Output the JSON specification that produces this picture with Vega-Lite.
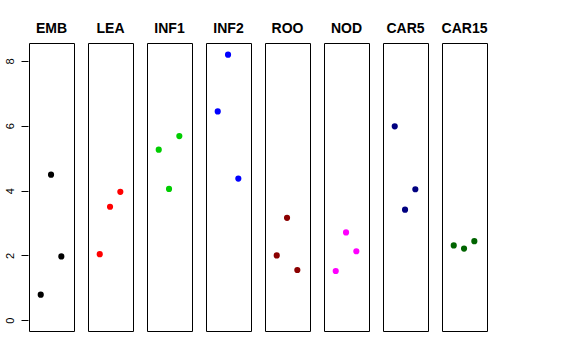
{
  "$schema": "https://vega.github.io/schema/vega-lite/v6.json",
  "background": "white",
  "padding": {"left": 4, "top": 22, "right": 5, "bottom": 5},
  "data": {"values": [
    {"panel": "EMB", "idx": 1, "value": 0.79},
    {"panel": "EMB", "idx": 2, "value": 4.49},
    {"panel": "EMB", "idx": 3, "value": 1.97},
    {"panel": "LEA", "idx": 1, "value": 2.04},
    {"panel": "LEA", "idx": 2, "value": 3.50},
    {"panel": "LEA", "idx": 3, "value": 3.96},
    {"panel": "INF1", "idx": 1, "value": 5.26},
    {"panel": "INF1", "idx": 2, "value": 4.05},
    {"panel": "INF1", "idx": 3, "value": 5.68},
    {"panel": "INF2", "idx": 1, "value": 6.44},
    {"panel": "INF2", "idx": 2, "value": 8.19},
    {"panel": "INF2", "idx": 3, "value": 4.37},
    {"panel": "ROO", "idx": 1, "value": 2.00},
    {"panel": "ROO", "idx": 2, "value": 3.16},
    {"panel": "ROO", "idx": 3, "value": 1.55},
    {"panel": "NOD", "idx": 1, "value": 1.52},
    {"panel": "NOD", "idx": 2, "value": 2.71},
    {"panel": "NOD", "idx": 3, "value": 2.13},
    {"panel": "CAR5", "idx": 1, "value": 5.98},
    {"panel": "CAR5", "idx": 2, "value": 3.41},
    {"panel": "CAR5", "idx": 3, "value": 4.04},
    {"panel": "CAR15", "idx": 1, "value": 2.31},
    {"panel": "CAR15", "idx": 2, "value": 2.21},
    {"panel": "CAR15", "idx": 3, "value": 2.44}
  ]},
  "facet": {
    "column": {
      "field": "panel",
      "type": "nominal",
      "sort": ["EMB", "LEA", "INF1", "INF2", "ROO", "NOD", "CAR5", "CAR15"],
      "header": {
        "title": null,
        "labelFont": "Liberation Sans",
        "labelFontWeight": "bold",
        "labelFontSize": 14,
        "labelColor": "black",
        "labelPadding": 6
      }
    }
  },
  "spacing": 12,
  "spec": {
    "width": 45,
    "height": 288,
    "mark": {"type": "circle", "size": 38, "opacity": 1},
    "encoding": {
      "x": {"field": "idx", "type": "quantitative", "scale": {"domain": [-0.14, 4.23], "nice": false, "zero": false}, "axis": null},
      "y": {
        "field": "value",
        "type": "quantitative",
        "scale": {"domain": [-0.33, 8.55], "nice": false, "zero": false},
        "axis": {
          "values": [0, 2, 4, 6, 8],
          "domain": false,
          "grid": false,
          "title": null,
          "tickSize": 7,
          "tickColor": "black",
          "labelAngle": 270,
          "labelAlign": "center",
          "labelBaseline": "bottom",
          "labelFont": "Liberation Sans",
          "labelFontSize": 11,
          "labelColor": "black",
          "labelPadding": 6
        }
      },
      "color": {
        "field": "panel",
        "type": "nominal",
        "scale": {
          "domain": ["EMB", "LEA", "INF1", "INF2", "ROO", "NOD", "CAR5", "CAR15"],
          "range": ["#000000", "#FF0000", "#00CD00", "#0000FF", "#8B0000", "#FF00FF", "#000080", "#006400"]
        },
        "legend": null
      }
    }
  },
  "config": {
    "view": {"stroke": "black", "strokeWidth": 1}
  }
}
